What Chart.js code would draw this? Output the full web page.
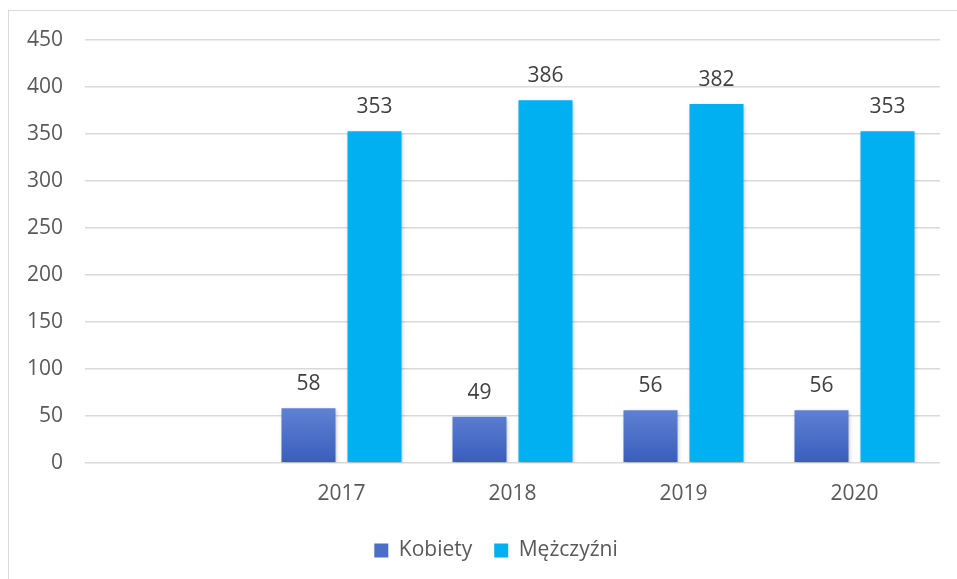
<!DOCTYPE html>
<html lang="pl">
<head>
  <meta charset="UTF-8">
  <title>Kobiety i Mężczyźni 2017-2020</title>
  <script src="https://cdn.jsdelivr.net/npm/chart.js"></script>
  <style>
    body { margin: 0; background: #fff; }
    .frame {
      position: absolute; left: 8px; top: 10px;
      width: 980px; height: 600px;
      border: 1px solid #d9d9d9;
    }
    .wrap { position: absolute; left: 0; top: 0; width: 957px; height: 579px; }
  </style>
</head>
<body>
  <div class="frame"></div>
  <div class="wrap"><canvas id="chart" width="957" height="579"></canvas></div>

  <script>
    const categories = ['', '2017', '2018', '2019', '2020'];
    const kobiety = [null, 58, 49, 56, 56];
    const mezczyzni = [null, 353, 386, 382, 353];
    const yTicks = [0, 50, 100, 150, 200, 250, 300, 350, 400, 450];

    const textColor = '#595959';
    const font = { family: '"Open Sans", "DejaVu Sans", sans-serif', size: 21 };

    // gradient for the blue bars, lighter at top
    const kobietyFill = (ctx) => {
      const chart = ctx.chart;
      if (!chart.chartArea) return '#4a6fc8';
      const y = chart.scales.y;
      const g = chart.ctx.createLinearGradient(0, y.getPixelForValue(58), 0, y.getPixelForValue(0));
      g.addColorStop(0, '#5f82d3');
      g.addColorStop(1, '#3a5dbd');
      return g;
    };

    // soft shadow under the bars, like the office chart
    const barShadow = {
      id: 'barShadow',
      beforeDatasetsDraw(chart) {
        const c = chart.ctx;
        c.save();
        c.shadowColor = 'rgba(0,0,0,0.28)';
        c.shadowBlur = 4;
        c.shadowOffsetX = 1;
        c.shadowOffsetY = 2;
      },
      afterDatasetsDraw(chart) {
        chart.ctx.restore();
      }
    };

    const valueLabels = {
      id: 'valueLabels',
      afterDatasetsDraw(chart) {
        const c = chart.ctx;
        c.save();
        c.font = `${font.size}px ${font.family}`;
        c.fillStyle = '#404040';
        c.textAlign = 'center';
        c.textBaseline = 'alphabetic';
        chart.data.datasets.forEach((ds, i) => {
          chart.getDatasetMeta(i).data.forEach((bar, j) => {
            if (ds.data[j] == null) return;
            c.fillText(ds.data[j], bar.x, bar.y - 18);
          });
        });
        c.restore();
      }
    };

    // legend sits a bit right of the canvas centre in the original
    const legendShift = {
      id: 'legendShift',
      afterLayout(chart) {
        chart.legend.left += 26;
        chart.legend.right += 26;
      }
    };

    new Chart(document.getElementById('chart'), {
      type: 'bar',
      data: {
        labels: categories,
        datasets: [
          { label: 'Kobiety', data: kobiety, backgroundColor: kobietyFill,
            categoryPercentage: 0.772, barPercentage: 0.818 },
          { label: 'Mężczyźni', data: mezczyzni, backgroundColor: '#00b0f0',
            categoryPercentage: 0.772, barPercentage: 0.818 }
        ]
      },
      options: {
        responsive: false,
        animation: false,
        layout: { padding: { top: 40, right: 17, bottom: 8, left: 0 } },
        plugins: {
          tooltip: { enabled: false },
          legend: {
            position: 'bottom',
            labels: {
              color: textColor, font: font,
              boxWidth: 14, boxHeight: 14, padding: 22,
              generateLabels(chart) {
                return chart.data.datasets.map((ds, i) => ({
                  text: ds.label,
                  fillStyle: i === 0 ? '#4a6fc8' : '#00b0f0',
                  strokeStyle: 'transparent', lineWidth: 0,
                  fontColor: textColor, datasetIndex: i
                }));
              }
            }
          }
        },
        scales: {
          x: {
            grid: { display: false },
            border: { display: false },
            ticks: { color: textColor, font: font, padding: 11 }
          },
          y: {
            min: 0, max: 450,
            afterBuildTicks(scale) { scale.ticks = yTicks.map(v => ({ value: v })); },
            afterFit(scale) { scale.width = 85; },
            grid: { color: '#d9d9d9', lineWidth: 1.5, drawTicks: false },
            border: { display: false },
            ticks: { color: textColor, font: font, padding: 22 }
          }
        }
      },
      plugins: [barShadow, valueLabels, legendShift]
    });
  </script>
</body>
</html>
